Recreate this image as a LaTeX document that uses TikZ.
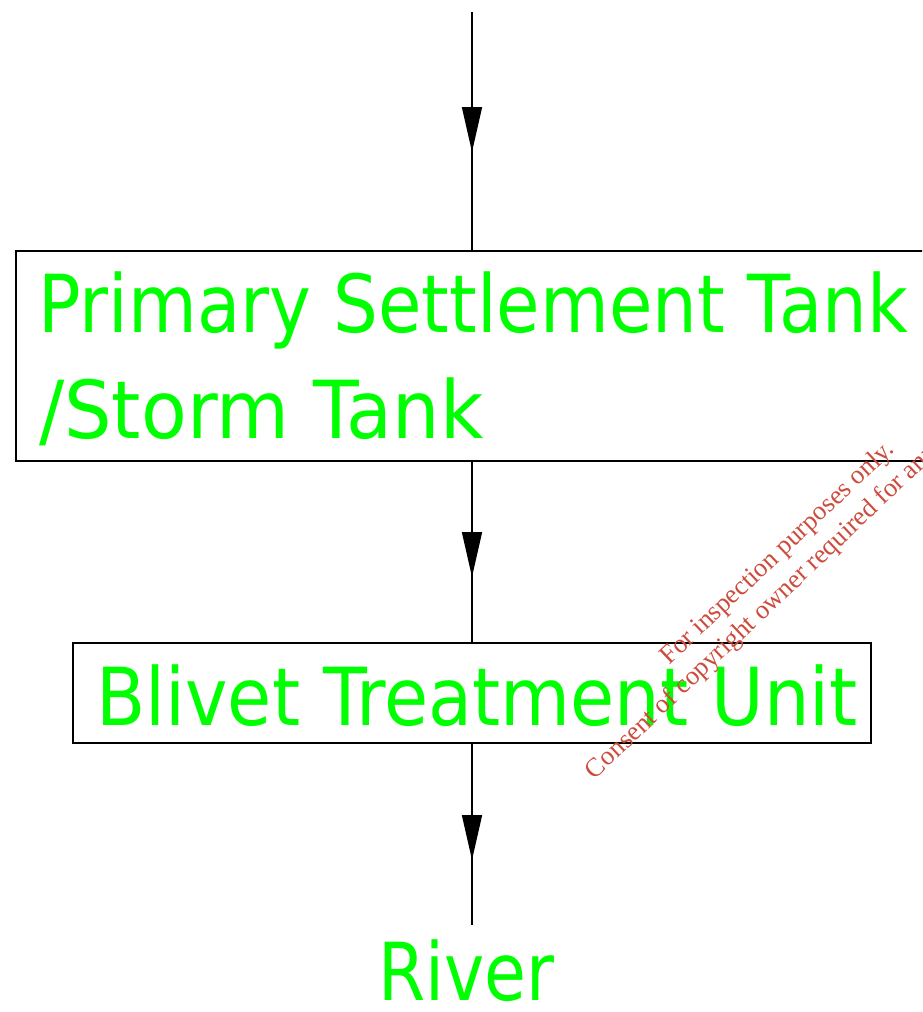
\documentclass[tikz,border=0pt]{standalone}
\usepackage{fontspec}
\setmainfont{Liberation Serif}
\newfontfamily\comicfont{DejaVu Sans}
\usetikzlibrary{arrows.meta,decorations.markings}
\definecolor{lab}{RGB}{0,255,0}
\definecolor{wm}{RGB}{205,75,60}
\tikzset{
 box/.style={draw=black,line width=1.6pt,rectangle,inner sep=0pt,outer sep=0pt},
 lbl/.style={text=lab,font=\comicfont\fontsize{80}{80}\selectfont,inner sep=0pt,anchor=base west},
 flow/.style={line width=1.6pt,postaction={decorate},decoration={markings,mark=at position #1 with {\arrow{Triangle[length=45pt,width=20pt]}}}},
 wmtext/.style={rotate=43.5,text=wm,font=\fontsize{26.5}{31}\selectfont,inner sep=0pt,anchor=base},
}
\begin{document}
\begin{tikzpicture}[x=1pt,y=-1pt]
\useasboundingbox (0,0) rectangle (922,1012);
\clip (0,0) rectangle (922,1012);
\node[box,minimum width=914pt,minimum height=210pt,anchor=north west] (b1) at (16,251) {};
\node[box,minimum width=798pt,minimum height=100pt,anchor=north west] (b2) at (73,643) {};
\node[lbl] (t1) at (38,332) {\scalebox{0.883}[1]{Primary Settlement Tank}};
\node[lbl] (t2) at (39,438) {\scalebox{0.936}[1]{/Storm Tank}};
\node[lbl] (t3) at (96,725) {\scalebox{0.898}[1]{Blivet Treatment Unit}};
\node[lbl] (t4) at (378,1000) {\scalebox{0.85}[1]{River}};
\coordinate (src) at (472,12);
\coordinate (riv) at (472,925);
\draw[flow=140pt] (src) -- (src |- b1.north);
\draw[flow=116pt] (b2.north |- b1.south) -- (b2.north);
\draw[flow=117pt] (b2.south) -- (riv);
\node[wmtext] (wm1) at (782.5,558.5) {For inspection purposes only.};
\node[wmtext] (wm2) at (806.6,579.2) {Consent of copyright owner required for any other use.};
\end{tikzpicture}
\end{document}
